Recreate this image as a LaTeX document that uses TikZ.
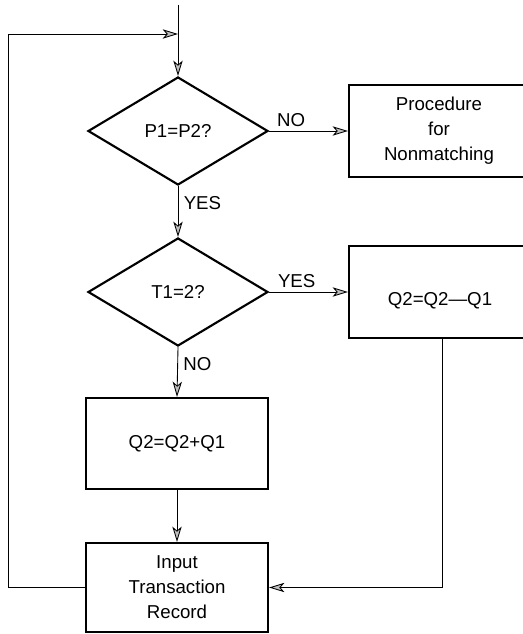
\documentclass[tikz,border=0pt]{standalone}
\usepackage{fontspec}
\setmainfont{Liberation Sans}
\usetikzlibrary{shapes.geometric,arrows.meta}
\begin{document}
\begin{tikzpicture}[x=0.75pt,y=-0.75pt,
  font=\fontsize{14}{18.75}\selectfont,
  decision/.style={diamond, draw, line width=1.6pt, inner sep=0pt,
    minimum width=135pt, minimum height=81pt},
  process/.style={rectangle, draw, line width=1.6pt, inner sep=0pt, align=center},
  conn/.style={line width=0.65pt,
    -{Stealth[length=11.5pt,width=7pt,inset=3pt,fill=gray!50]}},
  lbl/.style={inner sep=0pt}]
\useasboundingbox (0,0) rectangle (523,634);

% decisions
\node[decision] (d1) at (178,131) {P1=P2?};
\node[decision] (d2) at (178,292) {T1=2?};

% processes (the right-hand pair runs past the right margin)
\node[process, minimum width=135pt, minimum height=69pt] (b1) at (439,131)
  {Procedure\\for\\Nonmatching};
\node[process, minimum width=135pt, minimum height=69pt] (b2) at (439,292) {};
\node[lbl] (b2t) at (440,301) {Q2=Q2—Q1};
\node[process, minimum width=136.5pt, minimum height=68.25pt] (b3) at (177,443.5)
  {Q2=Q2+Q1};
\node[process, minimum width=136.5pt, minimum height=66.75pt] (b4) at (177,587.5)
  {Input\\Transaction\\Record};

% entry line and return loop
\coordinate (entry) at (178,5);
\coordinate (join) at (178,34);
\coordinate (corner) at (8,34);
\coordinate (b2out) at (442,338);

\draw[conn] (entry) -- (d1.north);
\draw[conn] (b4.west) -| (corner) -- (join);

% branches
\draw[conn] (d1.east) -- (b1.west) node[lbl, pos=0.28, above=3pt] {NO};
\draw[conn] (d1.south) -- (d2.north) node[lbl, pos=0.34, right=4pt] {YES};
\draw[conn] (d2.east) -- (b2.west) node[lbl, pos=0.35, above=3pt] {YES};
\draw[conn] (d2.south) -- (b3.north) node[lbl, pos=0.35, right=4pt] {NO};
\draw[conn] (b3.south) -- (b4.north);
\draw[conn] (b2out) |- (b4.east);
\end{tikzpicture}
\end{document}
